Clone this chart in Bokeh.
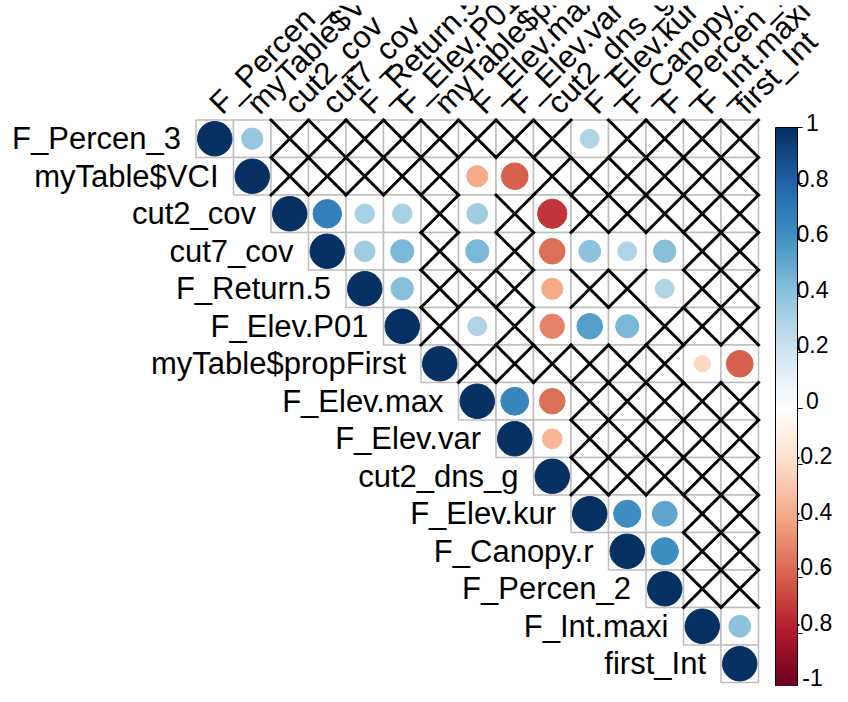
import math
from bokeh.plotting import figure
from bokeh.models import (Range1d, ColumnDataSource, LinearColorMapper, ColorBar,
                          FixedTicker, AllLabels)
from bokeh.embed import file_html
from bokeh.resources import INLINE
from bokeh.core.properties import value

# ---------------- data ----------------
labels = ["F_Percen_3", "myTable$VCI", "cut2_cov", "cut7_cov", "F_Return.5",
          "F_Elev.P01", "myTable$propFirst", "F_Elev.max", "F_Elev.var",
          "cut2_dns_g", "F_Elev.kur", "F_Canopy.r", "F_Percen_2", "F_Int.maxi",
          "first_Int"]

# upper triangle of the correlation matrix, each row starting at the diagonal
corr_upper = [
    [1.00, 0.38, 0.10, 0.08, 0.08, 0.06, 0.03, 0.03, -0.08, -0.05, 0.30, 0.03, -0.05, -0.08, 0.02],
    [1.00, 0.08, 0.07, 0.07, 0.02, -0.05, -0.38, -0.60, -0.06, 0.02, -0.06, 0.02, 0.02, -0.06],
    [1.00, 0.68, 0.32, 0.32, 0.05, 0.36, 0.07, -0.72, 0.03, 0.05, 0.05, 0.05, -0.03],
    [1.00, 0.36, 0.45, 0.05, 0.45, -0.05, -0.55, 0.40, 0.30, 0.42, 0.08, 0.02],
    [1.00, 0.42, 0.05, 0.05, -0.05, -0.38, 0.08, 0.08, 0.30, 0.08, 0.06],
    [1.00, 0.04, 0.30, -0.06, -0.50, 0.55, 0.45, 0.05, 0.03, 0.08],
    [1.00, 0.08, -0.06, -0.06, -0.07, -0.06, -0.06, -0.22, -0.60],
    [1.00, 0.65, -0.55, 0.06, 0.02, 0.02, 0.02, 0.02],
    [1.00, -0.33, -0.06, 0.02, 0.02, 0.02, 0.02],
    [1.00, -0.05, -0.05, 0.02, 0.02, 0.02],
    [1.00, 0.62, 0.52, 0.03, 0.05],
    [1.00, 0.62, 0.05, 0.02],
    [1.00, 0.02, 0.02],
    [1.00, 0.40],
    [1.00],
]

# "X" marks non-significant correlations (same layout as corr_upper)
insig_upper = [
    "..XXXXXXXX.XXXX",
    ".XXXXX..XXXXXX",
    "....X.X.XXXXX",
    "...X.X....XX",
    "..XXX.XX.XX",
    ".X.X...XXX",
    ".XXXXXX..",
    "...XXXXX",
    "..XXXXX",
    ".XXXXX",
    "...XX",
    "..XX",
    ".XX",
    "..",
    ".",
]

cb_ticks = [1, 0.8, 0.6, 0.4, 0.2, 0, -0.2, -0.4, -0.6, -0.8, -1]
cb_labels = ["1", "0.8", "0.6", "0.4", "0.2", "0", "-0.2", "-0.4", "-0.6", "-0.8", "-1"]

# corrplot's default RdBu ramp
anchors = ["#67001F", "#B2182B", "#D6604D", "#F4A582", "#FDDBC7", "#FFFFFF",
           "#D1E5F0", "#92C5DE", "#4393C3", "#2166AC", "#053061"]


def ramp(cols, n):
    rgb = [tuple(int(c[i:i + 2], 16) for i in (1, 3, 5)) for c in cols]
    out = []
    for k in range(n):
        t = k / (n - 1) * (len(rgb) - 1)
        i = min(int(t), len(rgb) - 2)
        f = t - i
        c = [round(rgb[i][d] + (rgb[i + 1][d] - rgb[i][d]) * f) for d in range(3)]
        out.append("#%02X%02X%02X" % tuple(c))
    return out


palette = ramp(anchors, 200)
mapper = LinearColorMapper(palette=palette, low=-1, high=1)

n = len(labels)
cell_x, cell_y, circ_r, circ_rad = [], [], [], []
seg_x0, seg_y0, seg_x1, seg_y1 = [], [], [], []
for i in range(n):
    for k, r in enumerate(corr_upper[i]):
        j = i + k
        cell_x.append(j)
        cell_y.append(i)
        circ_r.append(r)
        circ_rad.append(0.46 * math.sqrt(abs(r)))
        if insig_upper[i][k] == "X":
            seg_x0 += [j - 0.5, j - 0.5]
            seg_y0 += [i - 0.5, i + 0.5]
            seg_x1 += [j + 0.5, j + 0.5]
            seg_y1 += [i + 0.5, i - 0.5]

cells = ColumnDataSource(dict(x=cell_x, y=cell_y, r=circ_r, rad=circ_rad))
segs = ColumnDataSource(dict(x0=seg_x0, y0=seg_y0, x1=seg_x1, y1=seg_y1))

# ---------------- figure ----------------
W, H = 832, 686
cs = 37.5           # pixels per cell
x0_px = 203.5 - 8   # grid left inside frame
y0_px = 127.5 - 13  # grid top inside frame
top_border = 5
fw, fh = W, H - top_border

p = figure(width=W, height=H, output_backend="svg", toolbar_location=None,
           x_axis_type=None, y_axis_type=None,
           x_range=Range1d(-x0_px / cs - 0.5, (fw - x0_px) / cs - 0.5),
           y_range=Range1d((fh - y0_px) / cs - 0.5, -y0_px / cs - 0.5),
           min_border_left=0, min_border_right=0, min_border_bottom=0,
           min_border_top=top_border)
p.outline_line_color = None
p.background_fill_color = "white"
p.border_fill_color = "white"
p.xgrid.visible = False
p.ygrid.visible = False

# value scale for the colour-legend labels (1 near grid top, -1 near bottom)
lab_top_px = 117.0    # frame px of the "1" label
lab_span_px = 555.0   # frame px between "1" and "-1"
u = lab_span_px / 2.0
p.extra_y_ranges = {"cb": Range1d(1 - (fh - lab_top_px) / u, 1 + lab_top_px / u)}

p.rect(x="x", y="y", width=1, height=1, source=cells, fill_color="white",
       line_color="#BEBEBE", line_width=1.5)
p.circle(x="x", y="y", radius="rad", source=cells,
         fill_color={"field": "r", "transform": mapper},
         line_color={"field": "r", "transform": mapper}, line_width=1)
p.segment(x0="x0", y0="y0", x1="x1", y1="y1", source=segs, line_color="black",
          line_width=3, line_cap="square")

font = value("Liberation Sans")
idx = list(range(n))
p.text(x=[i - 0.5 - 0.4 for i in idx], y=idx, text=labels, text_align="right",
       text_baseline="middle", text_font=font, text_font_size="31px",
       text_color="black")
p.text(x=idx, y=[-0.5 - 0.31] * n, text=labels, angle=math.pi / 4,
       text_align="left", text_baseline="alphabetic", text_font=font,
       text_font_size="31px", text_color="black")

cb = ColorBar(color_mapper=mapper, ticker=FixedTicker(ticks=cb_ticks),
              major_label_policy=AllLabels(), major_label_text_alpha=0,
              major_label_text_font_size="8px",
              orientation="vertical", width=22, height=562, location=(775, -3),
              padding=0, margin=0, label_standoff=2,
              major_tick_line_color="black", major_tick_out=5, major_tick_in=0,
              bar_line_color="black", bar_line_width=1,
              background_fill_alpha=0, border_line_color=None)
p.add_layout(cb)

lab_x = (820 - 203.5) / cs - 0.5
p.text(x=[lab_x] * len(cb_ticks), y=cb_ticks, text=cb_labels, y_range_name="cb",
       text_align="center", text_baseline="middle", text_font=font,
       text_font_size="23px", text_color="black")

open("out.html", "w").write(file_html(p, INLINE))
